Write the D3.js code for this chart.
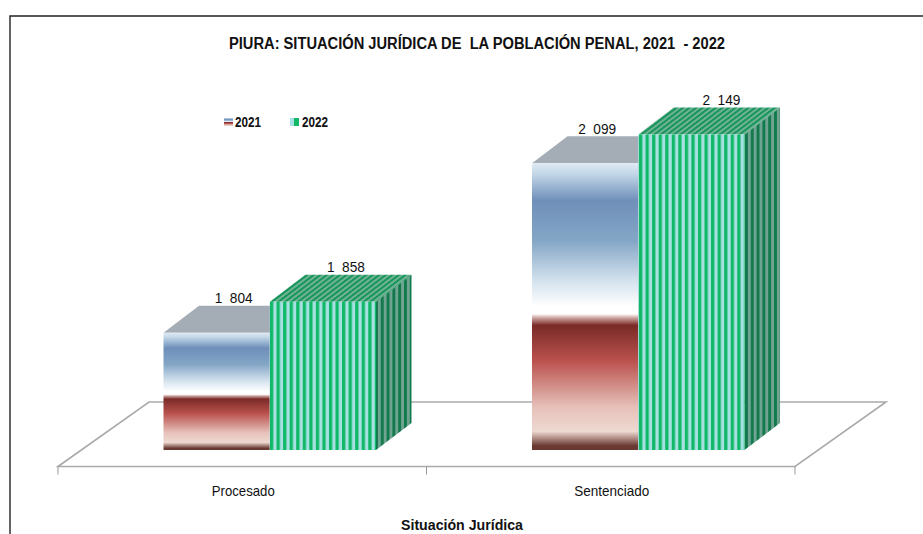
<!DOCTYPE html>
<html><head><meta charset="utf-8">
<script src="https://cdn.jsdelivr.net/npm/d3@7/dist/d3.min.js"></script>
<style>html,body{margin:0;padding:0;background:#fff}svg{display:block}text{font-family:"Liberation Sans",Arial,sans-serif;fill:#111;white-space:pre}</style>
</head><body><div id="c"></div>
<script>
const title = "PIURA: SITUACIÓN JURÍDICA DE  LA POBLACIÓN PENAL, 2021  - 2022";
const axisTitle = "Situación Jurídica";
const categories = ["Procesado", "Sentenciado"];
const series = ["2021", "2022"];
const values2021 = [1804, 2099];
const values2022 = [1858, 2149];

const W = 923, H = 534;
const svg = d3.select("#c").append("svg").attr("width", W).attr("height", H);
const defs = svg.append("defs");

const x0 = d3.scaleBand().domain(categories).range([58, 795]);
const y = d3.scaleLinear().domain([1600, 2200]).range([450, 105.3]);
const sub = d3.scaleBand().domain(series).range([0, 212.5]);
const depth = { x: 35.5, y: -27 };
const floorDepth = { x: 91, y: -64.5 };
const floorY = 466.5;
const groupOffset = 105.5;

const grad = defs.append("linearGradient").attr("id", "g2021").attr("x1", 0).attr("x2", 0).attr("y1", 0).attr("y2", 1);
[[0, "#dfeaf3"], [.035, "#c4d8e8"], [.13, "#6f8fba"], [.27, "#84a6c6"], [.42, "#d9e6f0"], [.5, "#ffffff"], [.525, "#ffffff"],
 [.54, "#c9a09c"], [.565, "#7a2a27"], [.69, "#bb524e"], [.85, "#e6c0b9"], [.935, "#eed9d1"], [.985, "#6a3a32"], [1, "#6a3a32"]]
  .forEach(s => grad.append("stop").attr("offset", s[0]).attr("stop-color", s[1]));

function stripes(id, w, a, b, tf) {
  const p = defs.append("pattern").attr("id", id).attr("patternUnits", "userSpaceOnUse")
    .attr("width", w).attr("height", 10);
  if (tf) p.attr("patternTransform", tf);
  p.append("rect").attr("width", w).attr("height", 10).attr("fill", b);
  p.append("rect").attr("width", w / 2).attr("height", 10).attr("fill", a);
}
stripes("front", 6.55, "#10b868", "#a6e0e0", "translate(270,0)");
stripes("side", 5.8, "#127a4c", "#6fa392", "translate(375,0)");
stripes("top", 6.55, "#17955c", "#6fb394", "translate(270,302) skewX(-52.7)");
stripes("front2", 6.55, "#10b868", "#a6e0e0", "translate(639,0)");
stripes("side2", 5.8, "#127a4c", "#6fa392", "translate(745,0)");
stripes("top2", 6.55, "#17955c", "#6fb394", "translate(639,135) skewX(-52.7)");

// frame: top and left rules only, the reference has no right rule inside the crop
svg.append("path").attr("d", `M10,${H}V16H${W}`).attr("fill", "none").attr("stroke", "#222").attr("stroke-width", 1.4);

// floor
const [fx0, fx1] = x0.range();
svg.append("path")
  .attr("d", `M${fx0},${floorY}L${fx0 + floorDepth.x},${floorY + floorDepth.y}H${fx1 + floorDepth.x}L${fx1},${floorY}Z`)
  .attr("fill", "none").attr("stroke", "#aaa").attr("stroke-width", 1.6);
const ticks = [...categories.map(c => x0(c)), fx1];
svg.selectAll("line.t").data(ticks).join("line").attr("class", "t")
  .attr("x1", d => d).attr("x2", d => d).attr("y1", floorY).attr("y2", floorY + 8)
  .attr("stroke", "#999").attr("stroke-width", 1);

// bars
const labelShift = { "Procesado2021": 17, "Procesado2022": 23, "Sentenciado2021": 12, "Sentenciado2022": 30 };
const fmt = v => d3.format("d")(v).replace(/^(\d)(\d{3})$/, "$1  $2");
function drawBar(cat, ser, v, frontFill, topFill, sideFill) {
  const gx = x0(cat) + groupOffset, x = gx + sub(ser), w = sub.bandwidth(), y1 = y(v), y2 = y(y.domain()[0]);
  const g = svg.append("g");
  g.append("path").attr("d", `M${x + w},${y1}l${depth.x},${depth.y}V${y2 + depth.y}L${x + w},${y2}Z`).attr("fill", sideFill);
  g.append("path").attr("d", `M${x},${y1}l${depth.x},${depth.y}h${w}l${-depth.x},${-depth.y}Z`).attr("fill", topFill);
  g.append("rect").attr("x", x).attr("y", y1).attr("width", w).attr("height", y2 - y1).attr("fill", frontFill);
  svg.append("text").attr("x", x + w / 2 + labelShift[cat + ser]).attr("y", y1 + depth.y - 2.5)
    .attr("text-anchor", "middle").attr("font-size", 15.5).attr("textLength", 38).attr("lengthAdjust", "spacingAndGlyphs").text(fmt(v));
}
categories.forEach((c, i) => {
  drawBar(c, "2021", values2021[i], "url(#g2021)", "#a4adb5", "#a4adb5");
});
categories.forEach((c, i) => {
  const s = i ? "2" : "";
  drawBar(c, "2022", values2022[i], `url(#front${s})`, `url(#top${s})`, `url(#side${s})`);
});

// category labels
svg.selectAll("text.cat").data(categories).join("text").attr("class", "cat")
  .attr("x", d => x0(d) + x0.bandwidth() / 2 + 1).attr("y", 495.5).attr("text-anchor", "middle")
  .attr("font-size", 15).attr("lengthAdjust", "spacingAndGlyphs")
  .attr("textLength", (d, i) => i ? 75 : 63).text(d => d);

// titles
svg.append("text").attr("x", 477).attr("y", 48.5).attr("text-anchor", "middle").attr("font-size", 16).attr("font-weight", "bold")
  .attr("textLength", 496).attr("lengthAdjust", "spacingAndGlyphs").text(title);
svg.append("text").attr("x", 462).attr("y", 530).attr("text-anchor", "middle").attr("font-size", 14).attr("font-weight", "bold")
  .attr("textLength", 122).attr("lengthAdjust", "spacingAndGlyphs").text(axisTitle);

// legend
const legGrad = defs.append("linearGradient").attr("id", "leg22");
[[0, "#a6e0e0"], [.5, "#a6e0e0"], [.5, "#10b868"], [1, "#10b868"]].forEach(s => legGrad.append("stop").attr("offset", s[0]).attr("stop-color", s[1]));
const legX = { "2021": 224, "2022": 290 };
series.forEach((s, i) => {
  svg.append("rect").attr("x", legX[s]).attr("y", 118).attr("width", 9).attr("height", 8).attr("fill", i ? "url(#leg22)" : "url(#g2021)");
  svg.append("text").attr("x", legX[s] + (i ? 12 : 11)).attr("y", 127).attr("font-size", 14).attr("font-weight", "bold")
    .attr("textLength", 26).attr("lengthAdjust", "spacingAndGlyphs").text(s);
});
</script></body></html>
